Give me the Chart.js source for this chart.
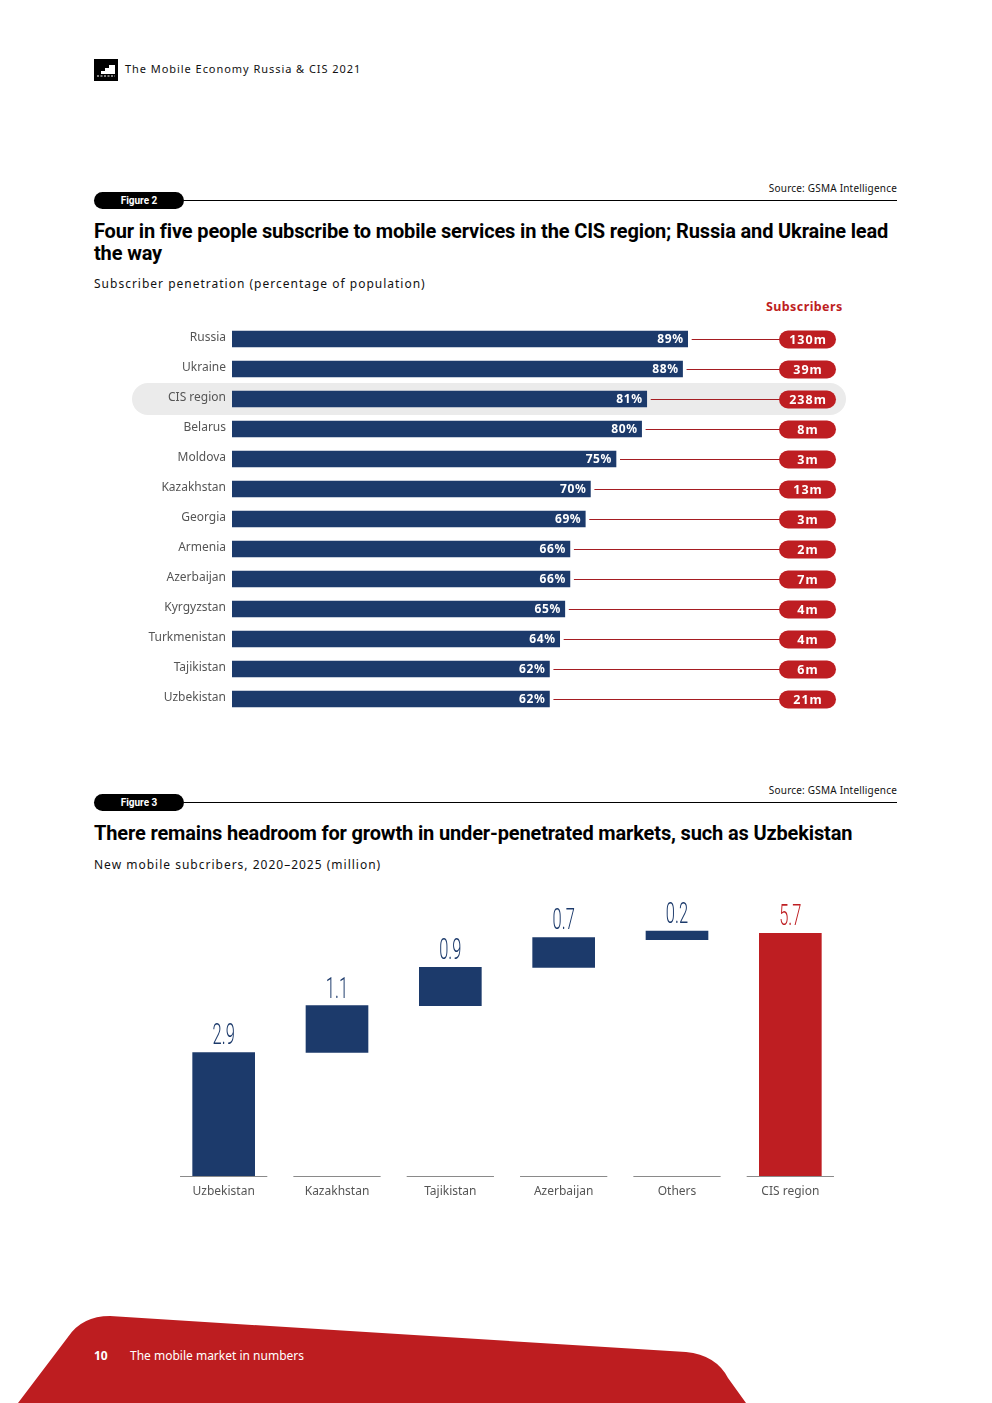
<!DOCTYPE html>
<html>
<head>
<meta charset="utf-8">
<script src="https://cdn.jsdelivr.net/npm/chart.js@4.4.1/dist/chart.umd.min.js"></script>
<style>
  html, body { margin: 0; padding: 0; background: #fff; }
  body { width: 992px; height: 1403px; position: relative; overflow: hidden; font-family: "Noto Sans", "Open Sans", sans-serif; color: #111; }
  .abs { position: absolute; }
  .head { left: 125px; top: 61px; font-size: 11px; letter-spacing: 0.95px; color: #111; }
  .pill { height: 17px; width: 90px; left: 94px; background: #000; color: #fff; border-radius: 9px; font: 700 10px "Roboto", sans-serif; text-align: center; line-height: 17px; }
  .rule { left: 184px; width: 713px; height: 1px; background: #000; }
  .source { right: 95px; font-size: 10px; letter-spacing: 0.2px; color: #111; }
  .title { left: 94px; font: 700 20px "Roboto", sans-serif; letter-spacing: -0.15px; line-height: 22px; color: #000; white-space: nowrap; }
  .sub { left: 94px; font-size: 12px; letter-spacing: 1px; color: #111; }
  .subs { left: 766px; top: 298px; font: 700 12.5px "Noto Sans", sans-serif; color: #be1e22; letter-spacing: 0.4px; }
  canvas { position: absolute; }
  .foot { font-size: 12px; color: #fff; top: 1347px; }
</style>
</head>
<body>

<svg class="abs" style="left:94px;top:59px" width="24" height="22" viewBox="0 0 24 22">
  <rect width="24" height="22" fill="#000"/>
  <polygon points="3,15 7,15 7,12 11,12 11,9 15,9 15,6 21,6 21,15 21,15 3,15" fill="#fff"/>
  <line x1="3" y1="17" x2="21" y2="17" stroke="#fff" stroke-width="1" stroke-dasharray="2,1.5"/>
</svg>
<div class="abs head">The Mobile Economy Russia &amp; CIS 2021</div>

<!-- Figure 2 -->
<div class="abs source" style="top:181px">Source: GSMA Intelligence</div>
<div class="abs pill" style="top:192px">Figure 2</div>
<div class="abs rule" style="top:200px"></div>
<div class="abs title" style="top:220px">Four in five people subscribe to mobile services in the CIS region; Russia and Ukraine lead<br>the way</div>
<div class="abs sub" style="top:275px">Subscriber penetration (percentage of population)</div>
<div class="abs subs">Subscribers</div>
<canvas id="fig2" width="806" height="390" style="left:94px;top:324px"></canvas>

<!-- Figure 3 -->
<div class="abs source" style="top:783px">Source: GSMA Intelligence</div>
<div class="abs pill" style="top:794px">Figure 3</div>
<div class="abs rule" style="top:802px"></div>
<div class="abs title" style="top:822px">There remains headroom for growth in under-penetrated markets, such as Uzbekistan</div>
<div class="abs sub" style="top:856px">New mobile subcribers, 2020–2025 (million)</div>
<canvas id="fig3" width="680" height="326" style="left:167px;top:880px"></canvas>

<!-- footer -->
<svg class="abs" style="left:0;top:1300px" width="992" height="103" viewBox="0 1300 992 103">
  <path d="M18 1403 L68 1337 Q82 1316 110 1316 L686 1352 Q716 1355 728 1378 L746 1403 Z" fill="#bd1d20"/>
</svg>
<div class="abs foot" style="left:94px;font-weight:700">10</div>
<div class="abs foot" style="left:130px">The mobile market in numbers</div>

<script>
// Figure 2 data
const countries = ["Russia", "Ukraine", "CIS region", "Belarus", "Moldova", "Kazakhstan", "Georgia",
  "Armenia", "Azerbaijan", "Kyrgyzstan", "Turkmenistan", "Tajikistan", "Uzbekistan"];
const penetration = [89, 88, 81, 80, 75, 70, 69, 66, 66, 65, 64, 62, 62];
const subscribers = [130, 39, 238, 8, 3, 13, 3, 2, 7, 4, 4, 6, 21];

// Figure 3 data
const markets = ["Uzbekistan", "Kazakhstan", "Tajikistan", "Azerbaijan", "Others", "CIS region"];
const newSubs = [2.9, 1.1, 0.9, 0.7, 0.2, 5.7];
const startAt = [0, 2.9, 4.0, 4.9, 5.55, 0];

const navy = "#1c3a6b";
const red = "#be1e22";

function roundRect(ctx, x, y, w, h, r) {
  ctx.beginPath();
  ctx.moveTo(x + r, y);
  ctx.lineTo(x + w - r, y);
  ctx.arc(x + w - r, y + r, r, -Math.PI / 2, 0);
  ctx.lineTo(x + w, y + h - r);
  ctx.arc(x + w - r, y + h - r, r, 0, Math.PI / 2);
  ctx.lineTo(x + r, y + h);
  ctx.arc(x + r, y + h - r, r, Math.PI / 2, Math.PI);
  ctx.lineTo(x, y + r);
  ctx.arc(x + r, y + r, r, Math.PI, Math.PI * 1.5);
  ctx.closePath();
}

// grey band behind CIS region + country names
const rowLabels = {
  id: "rowLabels",
  beforeDatasetsDraw(chart) {
    const ctx = chart.ctx;
    const yScale = chart.scales.y;
    const left = chart.chartArea.left;
    ctx.save();
    const hy = yScale.getPixelForValue(countries.indexOf("CIS region"));
    ctx.fillStyle = "#ebebeb";
    roundRect(ctx, 38, hy - 16, 714, 32, 16);
    ctx.fill();
    ctx.fillStyle = "#555";
    ctx.font = "12px 'Noto Sans'";
    ctx.textAlign = "right";
    ctx.textBaseline = "middle";
    countries.forEach((c, i) => {
      ctx.fillText(c, left - 6, yScale.getPixelForValue(i) - 1);
    });
    ctx.restore();
  }
};

const fig2Labels = {
  id: "fig2Labels",
  afterDatasetsDraw(chart) {
    const ctx = chart.ctx;
    const meta = chart.getDatasetMeta(0);
    ctx.save();
    meta.data.forEach((bar, i) => {
      // value inside bar
      ctx.fillStyle = "#fff";
      ctx.font = "700 12px 'Noto Sans'";
      ctx.letterSpacing = "0.6px";
      ctx.textAlign = "right";
      ctx.textBaseline = "middle";
      ctx.fillText(penetration[i] + "%", bar.x - 4, bar.y + 1);
      // connector
      ctx.strokeStyle = "#a51d22";
      ctx.lineWidth = 1;
      ctx.beginPath();
      ctx.moveTo(bar.x + 4, Math.round(bar.y) + 0.5);
      ctx.lineTo(686, Math.round(bar.y) + 0.5);
      ctx.stroke();
      // badge
      ctx.fillStyle = red;
      roundRect(ctx, 685, bar.y - 8.5, 57, 18, 9);
      ctx.fill();
      ctx.fillStyle = "#fff";
      ctx.textAlign = "center";
      ctx.font = "700 12.5px 'Noto Sans'";
      ctx.letterSpacing = "1px";
      ctx.fillText(subscribers[i] + "m", 714, bar.y + 1);
    });
    ctx.restore();
  }
};

new Chart(document.getElementById("fig2"), {
  type: "bar",
  data: {
    labels: countries,
    datasets: [{
      data: penetration,
      backgroundColor: navy,
      barThickness: 16
    }]
  },
  options: {
    indexAxis: "y",
    responsive: false,
    animation: false,
    layout: { padding: { left: 138, right: 156, top: 0, bottom: 0 } },
    plugins: { legend: { display: false }, tooltip: { enabled: false } },
    scales: {
      x: { display: false, min: 0, max: 100 },
      y: { display: false }
    }
  },
  plugins: [rowLabels, fig2Labels]
});

// Figure 3: waterfall
const fig3Labels = {
  id: "fig3Labels",
  afterDatasetsDraw(chart) {
    const ctx = chart.ctx;
    const meta = chart.getDatasetMeta(0);
    const bottom = chart.chartArea.bottom;
    const band = chart.scales.x.width / markets.length;
    ctx.save();
    meta.data.forEach((bar, i) => {
      // baseline segment under each category
      ctx.strokeStyle = "#8a8a8a";
      ctx.lineWidth = 1;
      ctx.beginPath();
      ctx.moveTo(bar.x - band * 0.385, bottom + 0.5);
      ctx.lineTo(bar.x + band * 0.385, bottom + 0.5);
      ctx.stroke();
      // value label, condensed
      const top = Math.min(bar.y, bar.base);
      ctx.save();
      ctx.translate(bar.x, top - 8);
      ctx.scale(0.55, 1);
      ctx.fillStyle = i === markets.length - 1 ? red : navy;
      ctx.font = "300 30px Roboto";
      ctx.textAlign = "center";
      ctx.textBaseline = "alphabetic";
      ctx.fillText(newSubs[i].toFixed(1), 0, 0);
      ctx.restore();
    });
    ctx.restore();
  }
};

new Chart(document.getElementById("fig3"), {
  type: "bar",
  data: {
    labels: markets,
    datasets: [{
      data: markets.map((m, i) => [startAt[i], startAt[i] + newSubs[i]]),
      backgroundColor: markets.map((m, i) => i === markets.length - 1 ? red : navy),
      barThickness: 62
    }]
  },
  options: {
    responsive: false,
    animation: false,
    layout: { padding: 0 },
    plugins: { legend: { display: false }, tooltip: { enabled: false } },
    scales: {
      y: { display: false, min: 0, max: 6.95 },
      x: {
        grid: { display: false, drawTicks: false },
        border: { display: false },
        ticks: { color: "#555", font: { family: "Noto Sans", size: 12 }, padding: 8 },
        afterFit(scale) { scale.height = 30; }
      }
    }
  },
  plugins: [fig3Labels]
});
</script>
</body>
</html>
